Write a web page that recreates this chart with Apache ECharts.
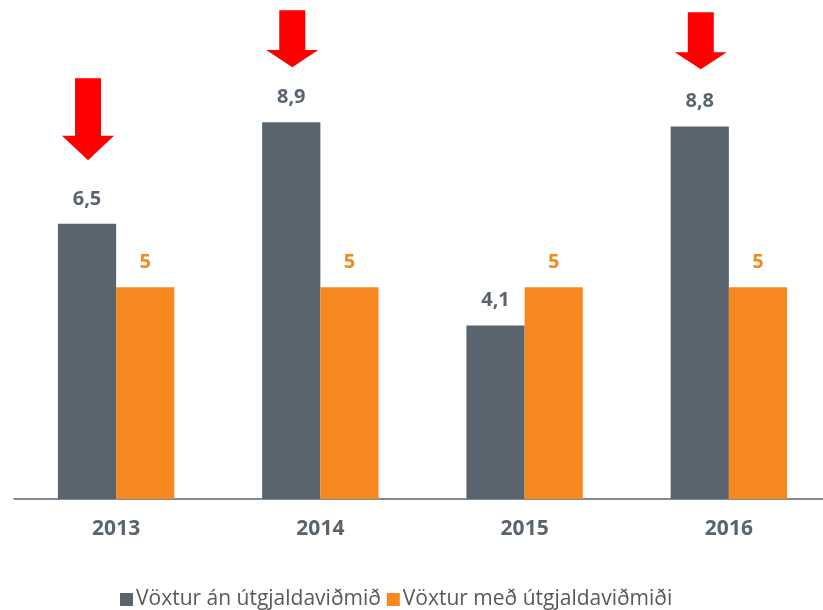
<!DOCTYPE html>
<html>
<head>
<meta charset="utf-8">
<script src="https://cdn.jsdelivr.net/npm/echarts@6/dist/echarts.min.js"></script>
<style>
    html, body { margin: 0; padding: 0; background: #fff; overflow: hidden; width: 823px; height: 610px; }
    /* chart box is a bit larger than the window: plot runs off the right and top edge */
    #chart { position: absolute; left: 0; top: -9px; width: 831px; height: 619px; }
</style>
</head>
<body>
<div id="chart"></div>
<script>
var years = ['2013', '2014', '2015', '2016'];
var seriesNames = ['Vöxtur án útgjaldaviðmið', 'Vöxtur með útgjaldaviðmiði'];
var growthWithout = [6.5, 8.9, 4.1, 8.8];
var growthWith = [5, 5, 5, 5];
// arrow tip value over the dark bar (null = no arrow)
var arrowTips = [8.0, 10.2, null, 10.15];

var darkColor = '#59646e';
var orangeColor = '#f5891f';

function fmt(p) {
    return String(p.value).replace('.', ',');
}

// down arrow, drawn in a 52 x 100 box
var arrowPath = 'path://M13,0 L39,0 L39,70 L52,70 L26,100 L0,70 L13,70 Z';

var arrowPoints = [];
for (var i = 0; i < arrowTips.length; i++) {
    if (arrowTips[i] === null) continue;
    var h = i === 0 ? 82 : 57;
    arrowPoints.push({
        coord: [i, arrowTips[i]],
        symbol: arrowPath,
        symbolSize: [52, h],
        symbolKeepAspect: false,
        symbolOffset: [1, -h / 2],
        itemStyle: { color: '#ff0000' },
        label: { show: false }
    });
}

var chart = echarts.init(document.getElementById('chart'));
var option = {
    animation: false,
    grid: { left: 14, right: 0, top: 0, bottom: 111 },
    xAxis: {
        type: 'category',
        data: years,
        axisLine: { lineStyle: { color: darkColor, width: 1.5 } },
        axisTick: { show: false },
        axisLabel: {
            margin: 20,
            color: darkColor,
            fontSize: 21,
            fontWeight: 'bold',
            fontFamily: 'Open Sans'
        }
    },
    yAxis: {
        type: 'value',
        min: 0,
        max: 12,
        show: false,
        splitLine: { show: false }
    },
    legend: {
        top: 598,
        left: 120,
        padding: 0,
        itemWidth: 13,
        itemHeight: 13,
        itemGap: 6,
        icon: 'rect',
        textStyle: { color: '#595959', fontSize: 21, fontFamily: 'Open Sans', padding: [0, 0, 0, -2] },
        data: seriesNames
    },
    series: [
        {
            name: seriesNames[0],
            type: 'bar',
            data: growthWithout,
            barGap: '0%',
            barCategoryGap: '43%',
            itemStyle: { color: darkColor },
            label: {
                show: true,
                position: 'top',
                distance: 15,
                formatter: fmt,
                color: darkColor,
                fontSize: 20,
                fontWeight: 'bold',
                fontFamily: 'Open Sans'
            },
            markPoint: { data: arrowPoints }
        },
        {
            name: seriesNames[1],
            type: 'bar',
            data: growthWith,
            itemStyle: { color: orangeColor },
            label: {
                show: true,
                position: 'top',
                distance: 15,
                formatter: fmt,
                color: orangeColor,
                fontSize: 20,
                fontWeight: 'bold',
                fontFamily: 'Open Sans'
            }
        }
    ]
};
chart.setOption(option);
</script>
</body>
</html>
